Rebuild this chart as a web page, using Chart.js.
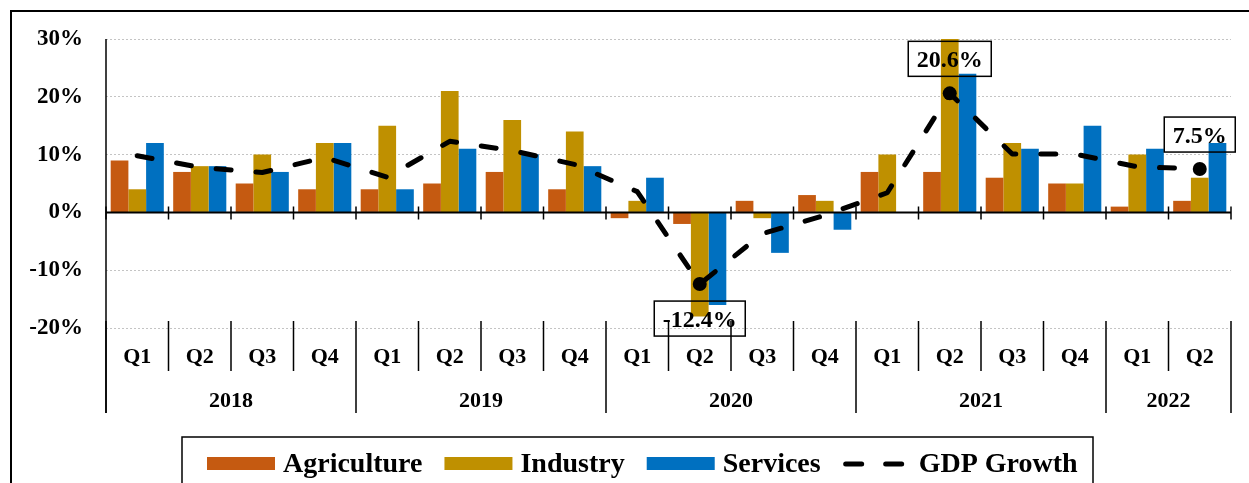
<!DOCTYPE html>
<html>
<head>
<meta charset="utf-8">
<script src="https://cdn.jsdelivr.net/npm/chart.js@4.4.0/dist/chart.umd.min.js"></script>
<style>
  html, body { margin: 0; padding: 0; background: #fff; }
  canvas { display: block; }
</style>
</head>
<body>
<canvas id="gdpChart" width="1249" height="483"></canvas>
<script>
// 2018 Q1 .. 2022 Q2
var quarters = ['Q1', 'Q2', 'Q3', 'Q4', 'Q1', 'Q2', 'Q3', 'Q4', 'Q1', 'Q2', 'Q3', 'Q4', 'Q1', 'Q2', 'Q3', 'Q4', 'Q1', 'Q2'];
var years = ['2018', '2019', '2020', '2021', '2022'];
var quartersPerYear = [4, 4, 4, 4, 2];

var agriculture = [9, 7, 5, 4, 4, 5, 7, 4, -1, -2, 2, 3, 7, 7, 6, 5, 1, 2];
var industry = [4, 8, 10, 12, 15, 21, 16, 14, 2, -18, -1, 2, 10, 30, 12, 5, 10, 6];
var services = [12, 8, 7, 12, 4, 11, 10, 8, 6, -16, -7, -3, 0, 24, 11, 15, 11, 12];
var gdpGrowth = [9.8, 7.8, 6.9, 9.5, 6.1, 12.3, 10.7, 8.3, 3.6, -12.4, -3.7, -0.5, 3.4, 20.6, 10.1, 10.1, 7.9, 7.5];

var yTicks = [-20, -10, 0, 10, 20, 30];
// GDP points that get a marker and a boxed label (label above = -1, below = 1)
var labelledPoints = [9, 13, 17];
var labelSide = [1, -1, -1];

var FONT = "'Liberation Serif', 'Times New Roman', serif";

var pointRadii = gdpGrowth.map(function (v, i) {
  return labelledPoints.indexOf(i) >= 0 ? 7 : 0;
});

var decorations = {
  id: 'decorations',
  beforeDraw: function (chart) {
    var ctx = chart.ctx;
    ctx.save();
    // outer frame (cut off on the right and bottom)
    ctx.strokeStyle = '#000';
    ctx.lineWidth = 2;
    ctx.beginPath();
    ctx.moveTo(11, 600);
    ctx.lineTo(11, 11);
    ctx.lineTo(1300, 11);
    ctx.stroke();
    ctx.restore();
  },
  afterDatasetsDraw: function (chart) {
    var ctx = chart.ctx;
    var area = chart.chartArea;
    var yScale = chart.scales.y;
    var xScale = chart.scales.x;
    var n = quarters.length;
    var w = (area.right - area.left) / n;
    var zeroY = yScale.getPixelForValue(0);
    var bottomY = yScale.getPixelForValue(-20);

    ctx.save();
    ctx.strokeStyle = '#000';

    // vertical axis
    ctx.lineWidth = 1.5;
    ctx.beginPath();
    ctx.moveTo(area.left, area.top);
    ctx.lineTo(area.left, bottomY + 85);
    ctx.stroke();

    // zero line with tick marks
    ctx.lineWidth = 2;
    ctx.beginPath();
    ctx.moveTo(area.left, zeroY);
    ctx.lineTo(area.right, zeroY);
    ctx.stroke();
    ctx.lineWidth = 1.5;
    ctx.beginPath();
    for (var k = 0; k <= n; k++) {
      var bx = area.left + k * w;
      ctx.moveTo(bx, zeroY - 6);
      ctx.lineTo(bx, zeroY + 7);
    }
    ctx.stroke();

    // category label area: quarter separators and year separators
    var yearEdges = [0];
    quartersPerYear.forEach(function (c) { yearEdges.push(yearEdges[yearEdges.length - 1] + c); });
    ctx.beginPath();
    for (k = 0; k <= n; k++) {
      bx = area.left + k * w;
      var isYear = yearEdges.indexOf(k) >= 0;
      ctx.moveTo(bx, bottomY - 7);
      ctx.lineTo(bx, isYear ? bottomY + 85 : bottomY + 43);
    }
    ctx.stroke();

    ctx.fillStyle = '#000';
    ctx.textAlign = 'center';
    ctx.textBaseline = 'alphabetic';
    ctx.font = 'bold 22px ' + FONT;
    quarters.forEach(function (q, i) {
      ctx.fillText(q, xScale.getPixelForValue(i), bottomY + 35);
    });
    years.forEach(function (yr, j) {
      var x0 = area.left + yearEdges[j] * w;
      var x1 = area.left + yearEdges[j + 1] * w;
      ctx.fillText(yr, (x0 + x1) / 2, bottomY + 79);
    });

    // boxed GDP labels
    var meta = chart.getDatasetMeta(3);
    ctx.font = 'bold 24px ' + FONT;
    labelledPoints.forEach(function (idx, j) {
      var pt = meta.data[idx];
      var txt = gdpGrowth[idx].toFixed(1) + '%';
      var tw = ctx.measureText(txt).width;
      var bw = tw + 17, bh = 35;
      var cy = pt.y + labelSide[j] * 34.5;
      ctx.lineWidth = 1.5;
      ctx.strokeRect(pt.x - bw / 2, cy - bh / 2, bw, bh);
      ctx.fillText(txt, pt.x, cy + 8.5);
    });

    // legend
    var lx = 182, ly = 437;
    ctx.lineWidth = 1.5;
    ctx.strokeRect(lx, ly, 911, 100);
    ctx.font = 'bold 28px ' + FONT;
    ctx.textAlign = 'left';
    var x = 207;
    chart.data.datasets.forEach(function (ds) {
      if (ds.type === 'line') {
        ctx.save();
        ctx.lineWidth = 5;
        ctx.lineCap = 'round';
        ctx.setLineDash([16, 24]);
        ctx.beginPath();
        ctx.moveTo(x + 3, 464);
        ctx.lineTo(x + 64, 464);
        ctx.stroke();
        ctx.restore();
      } else {
        ctx.fillStyle = ds.backgroundColor;
        ctx.fillRect(x, 457, 68, 13);
      }
      ctx.fillStyle = '#000';
      ctx.fillText(ds.label, x + 76, 472);
      x += 76 + ctx.measureText(ds.label).width + 22;
    });
    ctx.restore();
  }
};

new Chart(document.getElementById('gdpChart').getContext('2d'), {
  type: 'bar',
  data: {
    labels: quarters,
    datasets: [
      { label: 'Agriculture', data: agriculture, backgroundColor: '#C55A11', order: 1 },
      { label: 'Industry', data: industry, backgroundColor: '#BF9000', order: 1 },
      { label: 'Services', data: services, backgroundColor: '#0070C0', order: 1 },
      {
        type: 'line',
        label: 'GDP Growth',
        data: gdpGrowth,
        borderColor: '#000',
        backgroundColor: '#000',
        borderWidth: 5,
        borderDash: [15, 25],
        borderCapStyle: 'round',
        borderJoinStyle: 'round',
        pointRadius: pointRadii,
        pointBackgroundColor: '#000',
        pointBorderWidth: 0,
        tension: 0,
        order: 0
      }
    ]
  },
  options: {
    responsive: false,
    animation: false,
    devicePixelRatio: 1,
    layout: { padding: { top: 39, right: 18, bottom: 155, left: 0 } },
    datasets: {
      bar: { categoryPercentage: 0.85, barPercentage: 1.0 }
    },
    plugins: {
      legend: { display: false },
      tooltip: { enabled: false }
    },
    scales: {
      x: { display: false, offset: true, grid: { display: false } },
      y: {
        min: -20,
        max: 30,
        afterFit: function (scale) { scale.width = 106; },
        afterBuildTicks: function (scale) {
          scale.ticks = yTicks.map(function (v) { return { value: v }; });
        },
        ticks: {
          padding: 23,
          color: '#000',
          font: { family: FONT, size: 23, weight: 'bold' },
          callback: function (v) { return v + '%'; }
        },
        grid: {
          drawTicks: false,
          lineWidth: 1,
          color: function (c) { return c.tick && c.tick.value === 0 ? 'rgba(0,0,0,0)' : '#c4c4c4'; }
        },
        border: { display: false, dash: [2, 2] }
      }
    }
  },
  plugins: [decorations]
});
</script>
</body>
</html>
